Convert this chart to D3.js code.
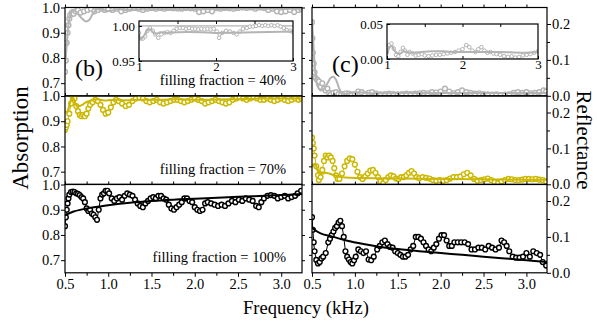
<!DOCTYPE html>
<html><head><meta charset="utf-8">
<script src="https://cdn.jsdelivr.net/npm/d3@7"></script>
<style>body{margin:0;background:#fff}svg{display:block}text{font-family:"Liberation Serif","Times New Roman",serif;fill:#000}</style>
</head><body><svg id="c" width="597" height="322"></svg>
<script>
// ---------- data ----------
const xTickLabels = ["0.5","1.0","1.5","2.0","2.5","3.0"];
const absTicks = [0.7,0.8,0.9,1.0];
const refTicks = [0.0,0.1,0.2];
const fillLabels = ["filling fraction = 40%","filling fraction = 70%","filling fraction = 100%"];
const colors = ["#b4b4b4","#ccb800","#000000"];

// absorption, 40% (measured / theory)
const abs40 = [[0.50,0.745],[0.51,0.79],[0.52,0.86],[0.53,0.90],[0.54,0.93],[0.55,0.955],[0.56,0.97],[0.58,0.98],[0.60,0.975],[0.62,0.985],[0.65,0.99],[0.68,0.98],[0.72,0.985],[0.76,0.99],[0.80,0.995],[0.84,0.985],[0.88,0.99],[0.92,0.995],[0.96,0.99],[1.00,0.995],[1.05,0.99],[1.10,0.995],[1.15,0.985],[1.20,0.99],[1.25,0.995],[1.30,0.998],[1.35,0.995],[1.40,0.99],[1.45,0.995],[1.50,0.998],[1.55,0.995],[1.60,0.998],[1.65,0.995],[1.70,0.998],[1.75,0.997],[1.80,0.996],[1.85,0.995],[1.90,0.998],[1.95,0.997],[2.00,0.995],[2.05,0.982],[2.10,0.985],[2.15,0.99],[2.20,0.985],[2.25,0.997],[2.30,0.995],[2.35,0.998],[2.40,0.997],[2.45,0.995],[2.50,0.998],[2.55,1.0],[2.60,0.998],[2.65,1.0],[2.70,0.995],[2.75,1.0],[2.80,0.998],[2.85,0.99],[2.90,0.995],[2.95,0.985],[3.00,0.982],[3.05,0.985],[3.10,0.99],[3.15,0.982],[3.20,0.99],[3.23,0.995]];
const abs40Th = [[0.50,0.77],[0.52,0.85],[0.54,0.93],[0.56,0.97],[0.58,0.99],[0.62,0.985],[0.66,0.97],[0.70,0.955],[0.74,0.945],[0.78,0.95],[0.82,0.975],[0.86,0.99],[0.90,0.995],[0.95,0.99],[1.0,0.985],[1.1,0.993],[1.2,0.99],[1.3,0.992],[1.5,0.993],[2.0,0.993],[2.5,0.995],[3.0,0.995],[3.24,0.995]];
// inset of absorption 40%
const abs40Inset = [[1.00,0.99],[1.02,0.982],[1.05,0.982],[1.08,0.985],[1.11,0.993],[1.14,0.997],[1.18,0.993],[1.21,0.988],[1.25,0.983],[1.29,0.988],[1.33,0.99],[1.37,0.991],[1.41,0.99],[1.45,0.993],[1.49,0.996],[1.53,0.997],[1.57,0.997],[1.61,0.996],[1.65,0.997],[1.69,0.996],[1.73,0.996],[1.77,0.995],[1.81,0.996],[1.85,0.995],[1.89,0.996],[1.93,0.995],[1.97,0.996],[2.01,0.992],[2.04,0.983],[2.08,0.99],[2.13,0.993],[2.18,0.992],[2.23,0.99],[2.27,0.988],[2.31,0.992],[2.35,0.996],[2.40,0.997],[2.44,0.999],[2.48,0.999],[2.52,1.0],[2.56,1.001],[2.60,1.0],[2.64,1.001],[2.68,1.0],[2.72,1.001],[2.76,1.0],[2.80,1.001],[2.84,0.999],[2.88,0.997],[2.92,0.994],[2.96,0.993],[3.00,0.991]];
const abs40InsetTh = [[1.00,0.985],[1.03,0.981],[1.07,0.987],[1.11,0.994],[1.15,0.995],[1.19,0.99],[1.23,0.989],[1.28,0.991],[1.35,0.99],[1.5,0.991],[1.8,0.991],[2.0,0.99],[2.5,0.991],[3.0,0.992]];
const abs40InsetRef = [[1.0,1.0],[3.0,1.0]];

// absorption, 70%
const abs70 = [[0.50,0.865],[0.51,0.875],[0.52,0.885],[0.53,0.9],[0.55,0.93],[0.57,0.97],[0.59,0.995],[0.61,0.99],[0.63,0.96],[0.65,0.94],[0.67,0.925],[0.69,0.92],[0.71,0.925],[0.73,0.92],[0.75,0.93],[0.77,0.95],[0.79,0.965],[0.82,0.975],[0.85,0.985],[0.88,0.98],[0.91,0.965],[0.94,0.945],[0.97,0.93],[1.00,0.935],[1.03,0.955],[1.06,0.975],[1.09,0.985],[1.12,0.98],[1.16,0.97],[1.20,0.96],[1.24,0.965],[1.28,0.98],[1.32,0.99],[1.36,0.995],[1.40,0.99],[1.44,0.98],[1.48,0.975],[1.52,0.98],[1.56,0.985],[1.60,0.975],[1.64,0.97],[1.68,0.975],[1.72,0.98],[1.76,0.985],[1.80,0.985],[1.84,0.98],[1.88,0.975],[1.92,0.98],[1.96,0.985],[2.00,0.99],[2.04,0.985],[2.08,0.98],[2.12,0.97],[2.16,0.975],[2.20,0.98],[2.24,0.985],[2.28,0.98],[2.32,0.975],[2.36,0.97],[2.40,0.975],[2.44,0.985],[2.48,0.99],[2.52,0.995],[2.56,0.99],[2.60,0.985],[2.64,0.99],[2.68,0.995],[2.72,0.99],[2.76,0.985],[2.80,0.985],[2.84,0.99],[2.88,0.985],[2.92,0.98],[2.96,0.985],[3.00,0.99],[3.04,0.985],[3.08,0.98],[3.12,0.985],[3.16,0.99],[3.20,0.985],[3.23,0.99]];
const abs70Th = [[0.50,0.94],[0.52,0.935],[0.54,0.95],[0.56,0.975],[0.58,0.995],[0.60,0.99],[0.62,0.97],[0.64,0.96],[0.67,0.96],[0.70,0.965],[0.74,0.975],[0.78,0.98],[0.82,0.985],[0.86,0.987],[0.90,0.985],[0.95,0.982],[1.0,0.983],[1.1,0.985],[1.2,0.983],[1.4,0.985],[1.6,0.985],[1.8,0.987],[2.0,0.985],[2.4,0.987],[2.8,0.99],[3.24,0.99]];

// absorption, 100%
const abs100 = [[0.50,0.835],[0.51,0.87],[0.52,0.9],[0.53,0.925],[0.54,0.945],[0.55,0.96],[0.57,0.97],[0.59,0.972],[0.61,0.97],[0.63,0.965],[0.65,0.963],[0.67,0.958],[0.69,0.95],[0.71,0.945],[0.73,0.93],[0.75,0.905],[0.77,0.895],[0.79,0.9],[0.81,0.885],[0.83,0.88],[0.85,0.87],[0.87,0.86],[0.89,0.9],[0.91,0.945],[0.93,0.96],[0.95,0.965],[0.97,0.975],[0.99,0.975],[1.01,0.965],[1.04,0.945],[1.07,0.935],[1.10,0.945],[1.13,0.95],[1.16,0.94],[1.19,0.955],[1.22,0.965],[1.25,0.96],[1.28,0.955],[1.31,0.94],[1.34,0.925],[1.37,0.915],[1.40,0.91],[1.43,0.925],[1.46,0.935],[1.49,0.945],[1.52,0.95],[1.55,0.945],[1.58,0.955],[1.61,0.955],[1.64,0.945],[1.67,0.94],[1.70,0.92],[1.73,0.905],[1.76,0.9],[1.79,0.91],[1.82,0.92],[1.85,0.93],[1.88,0.945],[1.91,0.945],[1.94,0.935],[1.97,0.93],[2.00,0.91],[2.03,0.9],[2.06,0.895],[2.09,0.9],[2.12,0.925],[2.15,0.93],[2.19,0.925],[2.23,0.92],[2.27,0.915],[2.31,0.92],[2.35,0.915],[2.39,0.925],[2.43,0.935],[2.47,0.93],[2.51,0.94],[2.55,0.935],[2.59,0.945],[2.63,0.94],[2.67,0.935],[2.71,0.915],[2.74,0.91],[2.77,0.93],[2.80,0.945],[2.84,0.955],[2.88,0.958],[2.92,0.955],[2.96,0.945],[3.00,0.95],[3.04,0.955],[3.08,0.945],[3.12,0.95],[3.16,0.955],[3.19,0.965],[3.23,0.975]];
const abs100Th = [[0.50,0.878],[0.6,0.893],[0.8,0.908],[1.0,0.918],[1.25,0.928],[1.5,0.935],[1.75,0.94],[2.0,0.944],[2.5,0.951],[3.0,0.958],[3.24,0.962]];

// reflectance, 40%
const ref40 = [[0.50,0.205],[0.505,0.16],[0.51,0.12],[0.52,0.09],[0.53,0.065],[0.54,0.05],[0.56,0.045],[0.58,0.04],[0.60,0.025],[0.62,0.035],[0.64,0.02],[0.66,0.015],[0.68,0.02],[0.70,0.008],[0.72,0.004],[0.75,0.008],[0.78,0.01],[0.81,0.005],[0.84,0.003],[0.87,0.005],[0.90,0.007],[0.93,0.006],[0.96,0.004],[1.00,0.005],[1.04,0.012],[1.08,0.01],[1.12,0.004],[1.16,0.008],[1.20,0.01],[1.25,0.006],[1.30,0.004],[1.35,0.005],[1.40,0.006],[1.45,0.005],[1.50,0.004],[1.55,0.005],[1.60,0.006],[1.65,0.005],[1.70,0.006],[1.75,0.007],[1.80,0.008],[1.85,0.007],[1.90,0.01],[1.95,0.009],[2.00,0.012],[2.05,0.02],[2.10,0.012],[2.15,0.007],[2.20,0.01],[2.25,0.015],[2.30,0.01],[2.35,0.008],[2.40,0.006],[2.45,0.007],[2.50,0.005],[2.55,0.004],[2.60,0.003],[2.65,0.004],[2.70,0.002],[2.75,0.003],[2.80,0.004],[2.85,0.008],[2.90,0.01],[2.95,0.008],[3.00,0.01],[3.05,0.007],[3.10,0.008],[3.15,0.01],[3.20,0.015],[3.23,0.012]];
const ref40Th = [[0.50,0.21],[0.52,0.13],[0.54,0.06],[0.56,0.03],[0.58,0.02],[0.60,0.015],[0.64,0.02],[0.68,0.035],[0.72,0.05],[0.75,0.053],[0.78,0.045],[0.81,0.025],[0.84,0.01],[0.88,0.005],[0.95,0.008],[1.05,0.01],[1.2,0.007],[1.5,0.008],[2.0,0.008],[2.5,0.008],[3.0,0.008],[3.24,0.008]];
// inset of reflectance 40%
const ref40Inset = [[1.00,0.01],[1.03,0.02],[1.06,0.022],[1.09,0.015],[1.12,0.006],[1.15,0.004],[1.18,0.01],[1.21,0.016],[1.24,0.012],[1.27,0.006],[1.30,0.01],[1.34,0.008],[1.38,0.005],[1.42,0.006],[1.46,0.007],[1.50,0.005],[1.55,0.004],[1.60,0.005],[1.65,0.006],[1.70,0.006],[1.75,0.007],[1.80,0.008],[1.85,0.009],[1.90,0.01],[1.95,0.012],[2.00,0.014],[2.05,0.02],[2.09,0.017],[2.13,0.012],[2.17,0.01],[2.21,0.014],[2.25,0.017],[2.29,0.012],[2.33,0.009],[2.37,0.01],[2.41,0.008],[2.45,0.007],[2.50,0.006],[2.55,0.004],[2.60,0.003],[2.65,0.004],[2.70,0.002],[2.75,0.003],[2.80,0.005],[2.85,0.006],[2.90,0.007],[2.95,0.009],[3.00,0.011]];
const ref40InsetTh = [[1.00,0.006],[1.03,0.016],[1.06,0.019],[1.10,0.012],[1.14,0.008],[1.18,0.008],[1.22,0.011],[1.27,0.01],[1.35,0.009],[1.45,0.01],[1.6,0.011],[1.75,0.011],[1.9,0.01],[2.1,0.01],[2.3,0.01],[2.5,0.01],[2.8,0.009],[3.0,0.01]];

// reflectance, 70%
const ref70 = [[0.50,0.13],[0.51,0.115],[0.52,0.1],[0.53,0.08],[0.55,0.05],[0.57,0.025],[0.58,0.012],[0.60,0.02],[0.62,0.04],[0.64,0.065],[0.66,0.08],[0.68,0.075],[0.70,0.08],[0.72,0.075],[0.74,0.065],[0.76,0.045],[0.78,0.025],[0.80,0.015],[0.82,0.015],[0.85,0.03],[0.88,0.05],[0.91,0.065],[0.94,0.072],[0.97,0.07],[1.00,0.055],[1.03,0.035],[1.06,0.02],[1.09,0.015],[1.12,0.022],[1.15,0.03],[1.18,0.038],[1.21,0.04],[1.24,0.032],[1.27,0.02],[1.30,0.008],[1.33,0.003],[1.36,0.012],[1.39,0.02],[1.42,0.025],[1.45,0.022],[1.48,0.016],[1.51,0.015],[1.54,0.02],[1.57,0.02],[1.60,0.025],[1.63,0.032],[1.66,0.037],[1.69,0.03],[1.72,0.02],[1.75,0.017],[1.79,0.02],[1.83,0.018],[1.87,0.016],[1.91,0.012],[1.95,0.01],[1.99,0.012],[2.03,0.01],[2.07,0.012],[2.11,0.016],[2.15,0.02],[2.19,0.02],[2.23,0.022],[2.27,0.028],[2.31,0.032],[2.35,0.025],[2.39,0.015],[2.43,0.01],[2.47,0.012],[2.51,0.014],[2.55,0.016],[2.59,0.012],[2.63,0.006],[2.67,0.003],[2.71,0.008],[2.75,0.012],[2.79,0.015],[2.83,0.014],[2.87,0.012],[2.91,0.012],[2.95,0.013],[2.99,0.015],[3.03,0.015],[3.07,0.014],[3.11,0.015],[3.15,0.013],[3.19,0.012],[3.23,0.008]];
const ref70Th = [[0.50,0.05],[0.53,0.057],[0.56,0.045],[0.58,0.035],[0.62,0.03],[0.66,0.032],[0.70,0.03],[0.75,0.026],[0.85,0.02],[0.95,0.018],[1.2,0.017],[1.5,0.016],[2.0,0.015],[2.5,0.014],[3.0,0.013],[3.24,0.013]];

// reflectance, 100%
const ref100 = [[0.50,0.155],[0.51,0.12],[0.52,0.085],[0.53,0.06],[0.55,0.036],[0.57,0.026],[0.59,0.03],[0.61,0.04],[0.63,0.045],[0.66,0.055],[0.69,0.085],[0.71,0.095],[0.73,0.105],[0.75,0.115],[0.77,0.125],[0.79,0.13],[0.81,0.14],[0.83,0.145],[0.85,0.13],[0.87,0.1],[0.89,0.06],[0.91,0.045],[0.93,0.037],[0.95,0.03],[0.97,0.026],[0.99,0.035],[1.01,0.045],[1.04,0.065],[1.07,0.06],[1.10,0.055],[1.13,0.06],[1.16,0.037],[1.19,0.035],[1.22,0.045],[1.26,0.065],[1.29,0.075],[1.32,0.085],[1.35,0.09],[1.38,0.08],[1.41,0.072],[1.44,0.07],[1.47,0.06],[1.50,0.055],[1.53,0.05],[1.56,0.045],[1.59,0.045],[1.62,0.05],[1.65,0.065],[1.68,0.075],[1.71,0.1],[1.74,0.1],[1.77,0.095],[1.80,0.085],[1.83,0.075],[1.86,0.065],[1.89,0.06],[1.92,0.07],[1.95,0.08],[1.98,0.095],[2.01,0.105],[2.04,0.105],[2.07,0.09],[2.10,0.075],[2.13,0.075],[2.16,0.085],[2.20,0.085],[2.24,0.085],[2.28,0.085],[2.32,0.08],[2.36,0.065],[2.40,0.065],[2.44,0.07],[2.48,0.07],[2.52,0.065],[2.56,0.075],[2.60,0.07],[2.64,0.065],[2.68,0.07],[2.71,0.09],[2.74,0.085],[2.77,0.075],[2.80,0.06],[2.84,0.045],[2.88,0.042],[2.92,0.042],[2.96,0.045],[3.00,0.055],[3.04,0.045],[3.08,0.06],[3.12,0.055],[3.16,0.05],[3.19,0.03],[3.23,0.02]];
const ref100Th = [[0.5,0.125],[0.6,0.11],[0.75,0.1],[0.9,0.09],[1.1,0.08],[1.3,0.072],[1.5,0.066],[1.75,0.06],[2.0,0.055],[2.25,0.05],[2.5,0.045],[2.75,0.04],[3.0,0.035],[3.24,0.03]];

// ---------- layout ----------
const svg = d3.select("#c");
const panelTop = [7.5, 96, 184.5], panelH = 88.3;
const xL = d3.scaleLinear().domain([0.5, 3.24]).range([65, 302]);
const xR = d3.scaleLinear().domain([0.5, 3.24]).range([312, 547]);
const xMajor = [0.5,1.0,1.5,2.0,2.5,3.0];
const xMinor = [0.75,1.25,1.75,2.25,2.75];

const absSets = [[abs40, abs40Th],[abs70, abs70Th],[abs100, abs100Th]];
const refSets = [[ref40, ref40Th],[ref70, ref70Th],[ref100, ref100Th]];

function styleAxis(g){ g.select(".domain").remove(); g.selectAll("line").attr("stroke","#000").attr("stroke-width",1); g.selectAll("text").style("font-size","14.5px").attr("fill","#000"); }

function drawSeries(g, x, y, meas, th, color, r, clipId, sw){
  const line = d3.line().x(d=>x(d[0])).y(d=>y(d[1]));
  const gg = g.append("g").attr("clip-path", clipId ? `url(#${clipId})` : null);
  gg.append("path").datum(meas).attr("d", line).attr("fill","none").attr("stroke",color).attr("stroke-width",1);
  gg.selectAll("circle.m").data(meas).join("circle").attr("class","m")
    .attr("cx",d=>x(d[0])).attr("cy",d=>y(d[1])).attr("r",r)
    .attr("fill","#fff").attr("stroke",color).attr("stroke-width",sw);
  gg.append("path").datum(th).attr("d", line.curve(d3.curveCatmullRom)).attr("fill","none").attr("stroke",color).attr("stroke-width",2);
}

const defs = svg.append("defs");

for (let i = 0; i < 3; i++) {
  const top = panelTop[i], bot = top + panelH;
  const yA = d3.scaleLinear().domain([0.65, 1.0]).range([bot, top]);
  const yR = d3.scaleLinear().domain([0, 0.246]).range([bot, top]);
  const color = colors[i];

  defs.append("clipPath").attr("id","cl"+i).append("rect").attr("x",xL.range()[0]).attr("y",top).attr("width",xL.range()[1]-xL.range()[0]).attr("height",panelH);
  defs.append("clipPath").attr("id","cr"+i).append("rect").attr("x",xR.range()[0]).attr("y",top).attr("width",xR.range()[1]-xR.range()[0]).attr("height",panelH);

  // ---- left (absorption) ----
  const gl = svg.append("g");
  drawSeries(gl, xL, yA, absSets[i][0], absSets[i][1], color, 2.4, "cl"+i, 1.4);
  gl.append("rect").attr("x",65).attr("y",top).attr("width",237).attr("height",panelH).attr("fill","none").attr("stroke","#000").attr("stroke-width",1.2);
  gl.append("g").attr("transform","translate(65,0)").call(d3.axisLeft(yA).tickValues(absTicks).tickSize(4).tickPadding(1).tickFormat(d3.format(".1f"))).call(styleAxis);
  gl.append("g").attr("transform","translate(302,0)").call(d3.axisRight(yA).tickValues(absTicks).tickSize(3).tickFormat("")).call(styleAxis);
  gl.append("g").attr("transform",`translate(0,${top})`).call(d3.axisTop(xL).tickValues(xMajor.concat(xMinor)).tickSize(3).tickFormat("")).call(styleAxis);
  if (i === 2) {
    gl.append("g").attr("transform",`translate(0,${bot})`).call(d3.axisBottom(xL).tickValues(xMajor).tickSize(4).tickPadding(2).tickFormat((d,j)=>xTickLabels[j])).call(styleAxis);
    gl.append("g").attr("transform",`translate(0,${bot})`).call(d3.axisBottom(xL).tickValues(xMinor).tickSize(3).tickFormat("")).call(styleAxis);
  }
  gl.append("text").attr("x",286).attr("y",top+panelH-10.5).attr("text-anchor","end").style("font-size","14.5px").text(fillLabels[i]);

  // ---- right (reflectance) ----
  const gr = svg.append("g");
  drawSeries(gr, xR, yR, refSets[i][0], refSets[i][1], color, 2.4, "cr"+i, 1.4);
  gr.append("rect").attr("x",312).attr("y",top).attr("width",235).attr("height",panelH).attr("fill","none").attr("stroke","#000").attr("stroke-width",1.2);
  gr.append("g").attr("transform","translate(547,0)").call(d3.axisRight(yR).tickValues(refTicks).tickSize(4).tickPadding(1).tickFormat(d3.format(".1f"))).call(styleAxis);
  gr.append("g").attr("transform","translate(547,0)").call(d3.axisRight(yR).tickValues([0.05,0.15]).tickSize(3).tickFormat("")).call(styleAxis);
  gr.append("g").attr("transform","translate(312,0)").call(d3.axisLeft(yR).tickValues([0.05,0.1,0.15,0.2]).tickSize(3).tickFormat("")).call(styleAxis);
  gr.append("g").attr("transform",`translate(0,${top})`).call(d3.axisTop(xR).tickValues(xMajor.concat(xMinor)).tickSize(3).tickFormat("")).call(styleAxis);
  if (i === 2) {
    gr.append("g").attr("transform",`translate(0,${bot})`).call(d3.axisBottom(xR).tickValues(xMajor).tickSize(4).tickPadding(2).tickFormat((d,j)=>xTickLabels[j])).call(styleAxis);
    gr.append("g").attr("transform",`translate(0,${bot})`).call(d3.axisBottom(xR).tickValues(xMinor).tickSize(3).tickFormat("")).call(styleAxis);
  }
}

// ---------- insets ----------
function inset(x0, x1, y0, y1, yDom, meas, th, refLine, yTickVals, yFmt){
  const xi = d3.scaleLinear().domain([1,3]).range([x0,x1]);
  const yi = d3.scaleLinear().domain(yDom).range([y1,y0]);
  const g = svg.append("g");
  g.append("rect").attr("x",x0).attr("y",y0).attr("width",x1-x0).attr("height",y1-y0).attr("fill","#fff");
  const id = "ci"+Math.round(x0);
  defs.append("clipPath").attr("id",id).append("rect").attr("x",x0).attr("y",y0).attr("width",x1-x0).attr("height",y1-y0);
  if (refLine) g.append("path").datum(refLine).attr("clip-path",`url(#${id})`).attr("d",d3.line().x(d=>xi(d[0])).y(d=>yi(d[1]))).attr("fill","none").attr("stroke",colors[0]).attr("stroke-width",1.2);
  drawSeries(g, xi, yi, meas, th, colors[0], 1.8, id, 1);
  g.append("rect").attr("x",x0).attr("y",y0).attr("width",x1-x0).attr("height",y1-y0).attr("fill","none").attr("stroke","#000").attr("stroke-width",1.2);
  g.append("g").attr("transform",`translate(${x0},0)`).call(d3.axisLeft(yi).tickValues(yTickVals).tickSize(-3).tickPadding(4).tickFormat(yFmt)).call(styleAxis);
  g.append("g").attr("transform",`translate(0,${y1})`).call(d3.axisBottom(xi).tickValues([1,2,3]).tickSize(-3).tickPadding(1).tickFormat(d3.format("d"))).call(styleAxis);
  g.append("g").attr("transform",`translate(0,${y0})`).call(d3.axisTop(xi).tickValues([1.5,2,2.5]).tickSize(-3).tickFormat("")).call(styleAxis);
  g.selectAll("text").style("font-size","13px");
}
inset(139, 293, 21, 61, [0.95, 1.007], abs40Inset, abs40InsetTh, abs40InsetRef, [0.95,1.0], d3.format(".2f"));
inset(387, 538, 24, 59, [0, 0.05], ref40Inset, ref40InsetTh, null, [0,0.05], d3.format(".2f"));

// ---------- labels ----------
svg.append("text").attr("x",75).attr("y",76).style("font-size","24px").text("(b)");
svg.append("text").attr("x",332).attr("y",72).style("font-size","24px").text("(c)");
svg.append("text").attr("transform","translate(28,138) rotate(-90)").attr("text-anchor","middle").style("font-size","23px").text("Absorption");
svg.append("text").attr("transform","translate(577,140) rotate(90)").attr("text-anchor","middle").style("font-size","21px").text("Reflectance");
svg.append("text").attr("x",306).attr("y",314).attr("text-anchor","middle").style("font-size","18.5px").text("Frequency (kHz)");
</script>
</body></html>
